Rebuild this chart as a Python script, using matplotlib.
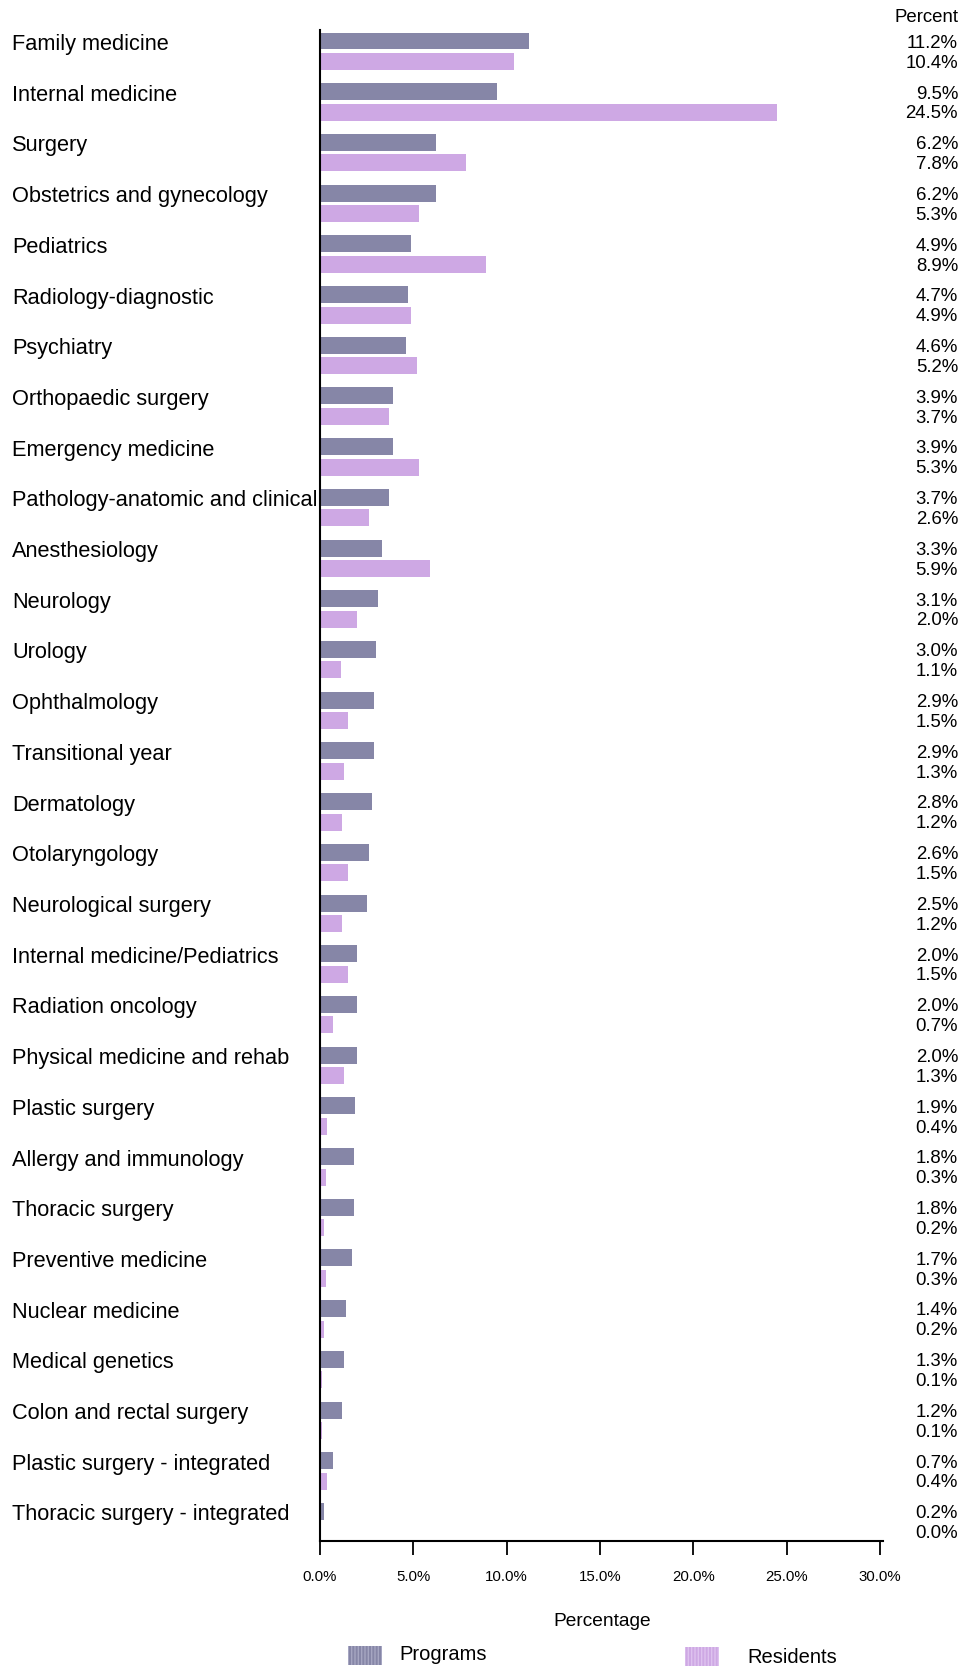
import matplotlib
matplotlib.use("Agg")
import matplotlib.pyplot as plt
import matplotlib.transforms as mtransforms
from matplotlib.patches import Rectangle
import numpy as np

plt.rcParams['font.family'] = ['Liberation Sans', 'DejaVu Sans']

specialties = [
    "Family medicine", "Internal medicine", "Surgery", "Obstetrics and gynecology",
    "Pediatrics", "Radiology-diagnostic", "Psychiatry", "Orthopaedic surgery",
    "Emergency medicine", "Pathology-anatomic and clinical", "Anesthesiology",
    "Neurology", "Urology", "Ophthalmology", "Transitional year", "Dermatology",
    "Otolaryngology", "Neurological surgery", "Internal medicine/Pediatrics",
    "Radiation oncology", "Physical medicine and rehab", "Plastic surgery",
    "Allergy and immunology", "Thoracic surgery", "Preventive medicine",
    "Nuclear medicine", "Medical genetics", "Colon and rectal surgery",
    "Plastic surgery - integrated", "Thoracic surgery - integrated",
]
programs = [11.2, 9.5, 6.2, 6.2, 4.9, 4.7, 4.6, 3.9, 3.9, 3.7, 3.3, 3.1, 3.0, 2.9, 2.9,
            2.8, 2.6, 2.5, 2.0, 2.0, 2.0, 1.9, 1.8, 1.8, 1.7, 1.4, 1.3, 1.2, 0.7, 0.2]
residents = [10.4, 24.5, 7.8, 5.3, 8.9, 4.9, 5.2, 3.7, 5.3, 2.6, 5.9, 2.0, 1.1, 1.5, 1.3,
             1.2, 1.5, 1.2, 1.5, 0.7, 1.3, 0.4, 0.3, 0.2, 0.3, 0.2, 0.1, 0.1, 0.4, 0.0]
xticks = [0, 5, 10, 15, 20, 25, 30]
series_names = ["Programs", "Residents"]

prog_color = "#8686a7"
res_color = "#cea8e4"

W, H = 963, 1667
fig = plt.figure(figsize=(W / 100, H / 100), dpi=100)
ax = fig.add_axes([320 / W, (H - 1541) / H, (883 - 320) / W, (1541 - 30) / H])

y = np.arange(len(specialties))
off = 0.202
bh = 0.335
ax.barh(y - off, programs, height=bh, color=prog_color, linewidth=0)
ax.barh(y + off, residents, height=bh, color=res_color, linewidth=0)

ax.set_xlim(0, 30.15)
ax.set_ylim(29.38, -0.419)

for s in ["top", "right"]:
    ax.spines[s].set_visible(False)
ax.spines["left"].set_linewidth(1.5)
ax.spines["bottom"].set_linewidth(1.5)
ax.set_yticks([])
ax.set_xticks(xticks)
ax.set_xticklabels([f"{t:.1f}%" for t in xticks], fontsize=10.8)
ax.tick_params(axis="x", length=10, width=1.3, pad=11)

# category labels on the left, value labels on the right (baseline placed)
unit = 50.7  # pixels per category
tr = mtransforms.blended_transform_factory(fig.transFigure, ax.transData)
for i, name in enumerate(specialties):
    ax.text(12 / W, i - off + 9 / unit, name, transform=tr, ha="left", va="baseline",
            fontsize=15.7, clip_on=False)
    ax.text(958 / W, i - off + 6.8 / unit, f"{programs[i]:.1f}%", transform=tr,
            ha="right", va="baseline", fontsize=13.4, clip_on=False)
    ax.text(958 / W, i + off + 6.2 / unit, f"{residents[i]:.1f}%", transform=tr,
            ha="right", va="baseline", fontsize=13.4, clip_on=False)

fig.text(958 / W, 1 - 22 / H, "Percent", ha="right", va="baseline", fontsize=13.4)
fig.text(602 / W, 1 - 1626 / H, "Percentage", ha="center", va="baseline", fontsize=13.8)

# legend drawn by hand: striped swatches and labels
legend_items = [
    (series_names[0], prog_color, "#a6a6c2", 348, 1646, 399, 1660),
    (series_names[1], res_color, "#dec2ef", 685, 1647, 747, 1663),
]
for name, fc, hc, px, py, tx, ty in legend_items:
    fig.add_artist(Rectangle((px / W, 1 - (py + 19) / H), 34 / W, 19 / H,
                             transform=fig.transFigure, facecolor=fc, edgecolor=hc,
                             hatch="|||||", linewidth=0))
    fig.text(tx / W, 1 - ty / H, name, ha="left", va="baseline", fontsize=14.5)

fig.savefig("out.png", dpi=100)
